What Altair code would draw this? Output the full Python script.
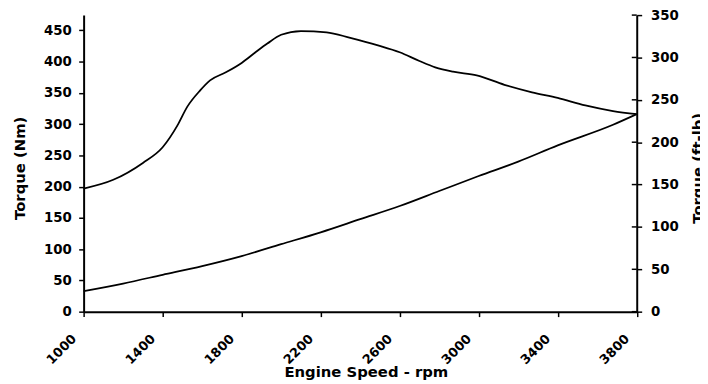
import altair as alt
import pandas as pd

# ---- data ----
upper_rpm = [1000, 1150, 1300, 1400, 1475, 1525, 1590, 1640, 1720, 1800, 1870, 1930,
             2000, 2100, 2230, 2350, 2490, 2600, 2700, 2780, 2870, 2990, 3130, 3270,
             3400, 3540, 3680, 3800]
upper_nm = [197, 211, 238, 263, 298, 328, 354, 370, 383, 398, 415, 429,
            443, 449, 447, 438, 426, 415, 401, 391, 384, 378, 363, 351,
            342, 330, 321, 316]

lower_rpm = [1000, 1200, 1400, 1600, 1800, 2000, 2200, 2400, 2600, 2800, 3000,
             3200, 3400, 3680, 3800]
lower_nm = [33, 45, 59, 73, 89, 108, 127, 148, 169, 193, 217, 240, 266, 299, 316]

x_ticks = [1000, 1400, 1800, 2200, 2600, 3000, 3400, 3800]
nm_ticks = [0, 50, 100, 150, 200, 250, 300, 350, 400, 450]
ftlb_ticks = [0, 50, 100, 150, 200, 250, 300, 350]

NM_MAX = 474.5   # = 350 ft-lb
W, H = 559.5, 300
FONT = "DejaVu Sans"

df = pd.concat([
    pd.DataFrame({"rpm": upper_rpm, "nm": upper_nm, "series": "torque"}),
    pd.DataFrame({"rpm": lower_rpm, "nm": lower_nm, "series": "lower"}),
])
ticks_df = pd.DataFrame({"ftlb": ftlb_ticks})

x_enc = alt.X(
    "rpm:Q",
    scale=alt.Scale(domain=[1000, 3800], nice=False, zero=False),
    axis=alt.Axis(
        values=x_ticks, format="d", title="Engine Speed - rpm", labelAngle=315,
        labelAlign="right", labelBaseline="middle", labelPadding=20,
        labelOffset=-10, labelFontSize=13, tickSize=5, titleX=285.5, titleY=66,
        titleBaseline="alphabetic", titleAlign="center", labelFlush=False,
        labelOverlap=False,
    ),
)

lines = alt.Chart(df).mark_line(
    color="black", strokeWidth=1.8, interpolate="monotone"
).encode(
    x=x_enc,
    y=alt.Y(
        "nm:Q",
        scale=alt.Scale(domain=[0, NM_MAX], nice=False),
        axis=alt.Axis(
            values=nm_ticks, title="Torque (Nm)", orient="left", tickSize=5,
            labelPadding=7.5, titleAngle=270, titleX=-64.8, titleY=154.5,
            titleBaseline="middle", titleAlign="center", labelFlush=False,
            labelOverlap=False,
        ),
    ),
    detail="series:N",
)

# right axis: outward ticks from the axis, inward half drawn as short rules
right = alt.Chart(ticks_df).mark_rule(color="black", strokeWidth=1.5).encode(
    x=alt.value(W - 5),
    x2=alt.value(W),
    y=alt.Y(
        "ftlb:Q",
        scale=alt.Scale(domain=[0, 350], nice=False),
        axis=alt.Axis(
            values=ftlb_ticks, title="Torque (ft-lb)", orient="right",
            tickSize=5, labelPadding=9, titleAngle=270,
            titleX=55, titleY=154.5, titleBaseline="top", titleAlign="center",
            labelFlush=False, labelOverlap=False,
        ),
    ),
)

chart = alt.layer(lines, right).resolve_scale(y="independent").properties(
    width=W, height=H,
    autosize=alt.AutoSizeParams(type="none"),
    padding={"left": 76.5, "top": 5, "right": 64, "bottom": 71},
).configure_view(stroke=None).configure_axis(
    grid=False, domainColor="black", domainWidth=2, tickColor="black",
    tickWidth=1.5, labelColor="black", titleColor="black",
    labelFont=FONT, labelFontSize=13.5, labelFontWeight="bold",
    titleFont=FONT, titleFontSize=15, titleFontWeight="bold",
)

chart.save("out.html", embed_options={"renderer": "svg", "actions": False})
